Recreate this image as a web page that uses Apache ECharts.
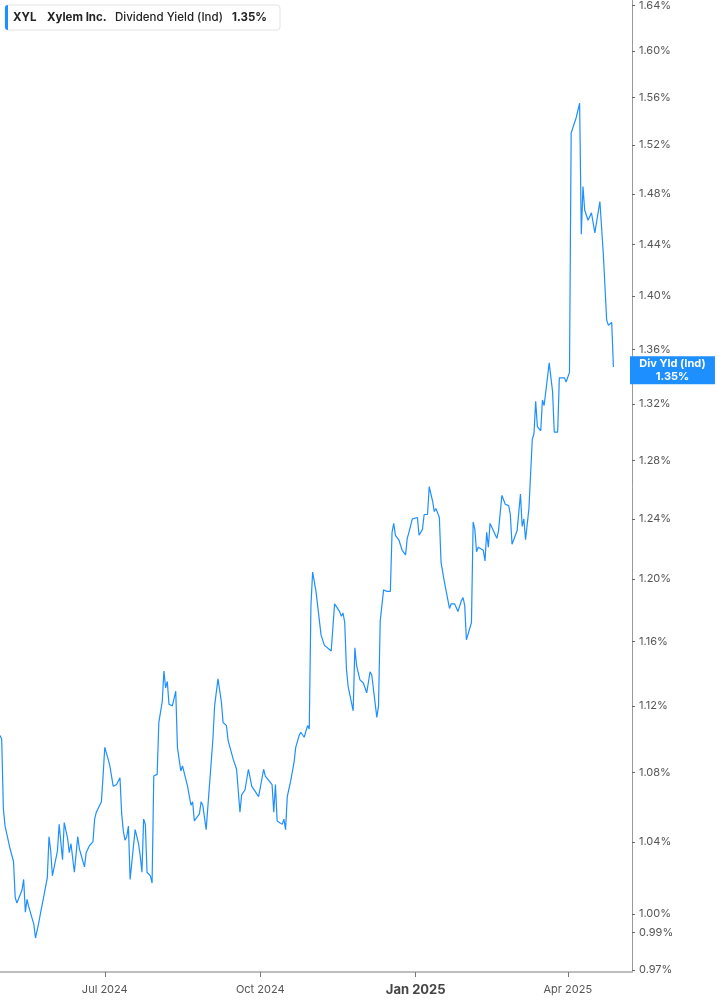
<!DOCTYPE html>
<html><head><meta charset="utf-8">
<script src="https://cdn.jsdelivr.net/npm/echarts@6/dist/echarts.min.js"></script>
<style>html,body{margin:0;padding:0;background:#fff}#c{width:717px;height:1005px}</style>
</head><body><div id="c"></div>
<script>
const dates = [
'2024-04-30','2024-05-01','2024-05-02','2024-05-03','2024-05-06','2024-05-08','2024-05-09','2024-05-10','2024-05-13','2024-05-14',
'2024-05-15','2024-05-16','2024-05-17','2024-05-20','2024-05-21','2024-05-22','2024-05-23','2024-05-24','2024-05-26','2024-05-28',
'2024-05-29','2024-05-30','2024-05-31','2024-06-03','2024-06-04','2024-06-06','2024-06-07','2024-06-09','2024-06-10','2024-06-11',
'2024-06-13','2024-06-14','2024-06-15','2024-06-16','2024-06-19','2024-06-20','2024-06-22','2024-06-24','2024-06-25','2024-06-26',
'2024-06-27','2024-06-29','2024-06-30','2024-07-01','2024-07-03','2024-07-04','2024-07-06','2024-07-08','2024-07-09','2024-07-10',
'2024-07-11','2024-07-12','2024-07-13','2024-07-14','2024-07-15','2024-07-16','2024-07-18','2024-07-19','2024-07-21','2024-07-22',
'2024-07-23','2024-07-24','2024-07-25','2024-07-26','2024-07-28','2024-07-29','2024-07-30','2024-08-01','2024-08-02','2024-08-04',
'2024-08-05','2024-08-06','2024-08-07','2024-08-08','2024-08-10','2024-08-12','2024-08-13','2024-08-14','2024-08-15','2024-08-16',
'2024-08-19','2024-08-20','2024-08-21','2024-08-22','2024-08-23','2024-08-26','2024-08-27','2024-08-28','2024-08-29','2024-08-30',
'2024-09-03','2024-09-04','2024-09-06','2024-09-08','2024-09-09','2024-09-11','2024-09-12','2024-09-13','2024-09-15','2024-09-17',
'2024-09-18','2024-09-19','2024-09-20','2024-09-22','2024-09-24','2024-09-26','2024-09-28','2024-09-30','2024-10-01','2024-10-02',
'2024-10-03','2024-10-04','2024-10-08','2024-10-09','2024-10-10','2024-10-11','2024-10-14','2024-10-15','2024-10-16','2024-10-17',
'2024-10-19','2024-10-21','2024-10-22','2024-10-23','2024-10-24','2024-10-25','2024-10-27','2024-10-29','2024-10-30','2024-10-31',
'2024-11-01','2024-11-03','2024-11-06','2024-11-07','2024-11-08','2024-11-12','2024-11-14','2024-11-17','2024-11-18','2024-11-19',
'2024-11-20','2024-11-21','2024-11-22','2024-11-25','2024-11-26','2024-11-27','2024-11-29','2024-12-01','2024-12-03','2024-12-04',
'2024-12-05','2024-12-06','2024-12-09','2024-12-10','2024-12-11','2024-12-13','2024-12-15','2024-12-17','2024-12-18','2024-12-19',
'2024-12-20','2024-12-22','2024-12-24','2024-12-26','2024-12-27','2024-12-28','2024-12-30','2024-12-31','2025-01-02','2025-01-03',
'2025-01-05','2025-01-06','2025-01-08','2025-01-09','2025-01-11','2025-01-12','2025-01-13','2025-01-15','2025-01-16','2025-01-18',
'2025-01-21','2025-01-22','2025-01-24','2025-01-26','2025-01-28','2025-01-29','2025-01-30','2025-01-31','2025-02-03','2025-02-04',
'2025-02-05','2025-02-06','2025-02-07','2025-02-10','2025-02-11','2025-02-12','2025-02-13','2025-02-14','2025-02-16','2025-02-18',
'2025-02-19','2025-02-21','2025-02-23','2025-02-24','2025-02-25','2025-02-26','2025-02-27','2025-03-02','2025-03-04','2025-03-05',
'2025-03-06','2025-03-07','2025-03-09','2025-03-11','2025-03-12','2025-03-13','2025-03-14','2025-03-16','2025-03-17','2025-03-18',
'2025-03-21','2025-03-23','2025-03-24','2025-03-26','2025-03-27','2025-03-30','2025-03-31','2025-04-02','2025-04-03','2025-04-06',
'2025-04-08','2025-04-09','2025-04-10','2025-04-11','2025-04-13','2025-04-15','2025-04-16','2025-04-17','2025-04-20','2025-04-22',
'2025-04-24','2025-04-25','2025-04-27','2025-04-28'
];
const divYield = [
1.102,1.100,1.059,1.049,1.036,1.029,1.009,1.006,1.013,1.019,
1.001,1.008,1.004,0.9945,0.987,0.988,0.9955,1.0006,1.010,1.020,
1.043,1.035,1.021,1.035,1.050,1.030,1.051,1.042,1.034,1.039,
1.023,1.023,1.043,1.036,1.026,1.034,1.038,1.040,1.053,1.057,
1.057,1.063,1.078,1.095,1.088,1.084,1.072,1.073,1.074,1.077,
1.056,1.046,1.041,1.043,1.049,1.019,1.038,1.047,1.039,1.032,
1.023,1.053,1.050,1.023,1.021,1.017,1.078,1.079,1.110,1.1225,
1.1415,1.131,1.135,1.121,1.120,1.129,1.095,1.095,1.081,1.084,
1.072,1.073,1.061,1.063,1.052,1.056,1.063,1.061,1.060,1.047,
1.100,1.120,1.1366,1.1225,1.110,1.108,1.099,1.100,1.088,1.082,
1.083,1.057,1.067,1.070,1.082,1.072,1.069,1.066,1.071,1.072,
1.082,1.078,1.073,1.057,1.073,1.052,1.050,1.053,1.047,1.066,
1.075,1.086,1.095,1.094,1.102,1.104,1.101,1.108,1.106,1.1826,
1.2047,1.192,1.164,1.163,1.1575,1.154,1.184,1.179,1.176,1.178,
1.172,1.143,1.132,1.117,1.156,1.145,1.136,1.134,1.128,1.128,
1.141,1.139,1.113,1.120,1.173,1.193,1.192,1.192,1.231,1.237,
1.229,1.226,1.219,1.216,1.227,1.231,1.240,1.241,1.241,1.229,
1.233,1.243,1.243,1.262,1.252,1.245,1.247,1.241,1.211,1.198,
1.181,1.184,1.184,1.179,1.186,1.188,1.183,1.161,1.172,1.238,
1.233,1.218,1.221,1.219,1.212,1.231,1.221,1.237,1.232,1.227,
1.232,1.256,1.250,1.249,1.249,1.243,1.223,1.232,1.257,1.235,
1.240,1.226,1.247,1.295,1.299,1.322,1.304,1.301,1.323,1.319,
1.350,1.329,1.300,1.300,1.339,1.339,1.336,1.343,1.530,1.543,
1.555,1.448,1.486,1.467,1.459,1.465,1.465,1.449,1.474,1.433,
1.382,1.378,1.380,1.347
];
const yTicks = [0.97,0.99,1.00,1.04,1.08,1.12,1.16,1.20,1.24,1.28,1.32,1.36,1.40,1.44,1.48,1.52,1.56,1.60,1.64];
const xTicks = ['2024-07-01','2024-10-01','2025-01-01','2025-04-01'];
const monthNames = ['Jan','Feb','Mar','Apr','May','Jun','Jul','Aug','Sep','Oct','Nov','Dec'];
const lastValue = 1.35;
const xStart = '2024-04-30';
const xEnd = '2025-05-09';

function ts(s) { return Date.parse(s + 'T00:00:00Z'); }

const FONT = 'Inter, Roboto, sans-serif';
const BLUE = '#1e8fff';
const chart = echarts.init(document.getElementById('c'), null, {renderer:'canvas'});
const option = {
  animation: false,
  backgroundColor: '#fff',
  textStyle: {fontFamily: FONT},
  grid: {left: 0, right: 85, top: 0, bottom: 33, containLabel: false},
  xAxis: {
    type: 'value',
    min: ts(xStart),
    max: ts(xEnd),
    axisLine: {show: true, lineStyle: {color: '#bdbdbd', width: 2}},
    axisTick: {show: true, customValues: xTicks.map(ts), length: 5, lineStyle: {color: '#777'}},
    axisLabel: {
      customValues: xTicks.map(ts),
      color: '#555', fontSize: 11, fontFamily: FONT, margin: 12,
      formatter: function (v) {
        const d = new Date(v);
        const s = monthNames[d.getUTCMonth()] + ' ' + d.getUTCFullYear();
        return d.getUTCMonth() === 0 ? '{b|' + s + '}' : s;
      },
      rich: {b: {fontWeight: 'bold', fontSize: 13, color: '#444', fontFamily: FONT}}
    },
    splitLine: {show: false}
  },
  yAxis: {
    type: 'log',
    position: 'right',
    min: 0.9689,
    max: 1.6445,
    axisLine: {show: true, lineStyle: {color: '#999', width: 1}},
    axisTick: {show: true, customValues: yTicks, length: 3, lineStyle: {color: '#666'}},
    axisLabel: {
      customValues: yTicks,
      color: '#555', fontSize: 11, fontFamily: FONT, margin: 7,
      formatter: function (v) { return Number(v).toFixed(2) + '%'; }
    },
    splitLine: {show: false},
    axisPointer: {
      show: true, type: 'line', value: lastValue, status: 'show', snap: false,
      lineStyle: {opacity: 0},
      label: {
        show: true, backgroundColor: BLUE, color: '#fff', fontWeight: 'bold', fontSize: 11,
        fontFamily: FONT, padding: [1, 0, 1, 0], margin: 0, borderRadius: 0,
        formatter: function () { return '{a|Div Yld (Ind)}\n{a|' + lastValue.toFixed(2) + '%}'; },
        rich: {a: {width: 85, align: 'center', color: '#fff', fontWeight: 'bold', fontSize: 11, fontFamily: FONT, lineHeight: 13}}
      },
      handle: {show: false}
    }
  },
  series: [{
    type: 'line',
    data: dates.map((d, i) => [ts(d), divYield[i]]),
    showSymbol: false,
    symbol: 'none',
    lineStyle: {color: BLUE, width: 1.2},
    silent: true
  }],
  graphic: [
    {type: 'rect', shape: {x: 5, y: 5, width: 275, height: 25, r: 3}, style: {fill: '#fff', stroke: '#e3e3e3', lineWidth: 1}, z: 10},
    {type: 'rect', shape: {x: 5, y: 5, width: 3, height: 25, r: [3, 0, 0, 3]}, style: {fill: BLUE}, z: 11},
    {type: 'text', x: 13, y: 17.5, style: {text: 'XYL', font: 'bold 11.5px ' + FONT, fill: '#222', verticalAlign: 'middle'}, z: 11},
    {type: 'text', x: 47, y: 17.5, style: {text: 'Xylem Inc.', font: 'bold 11.5px ' + FONT, fill: '#222', verticalAlign: 'middle'}, z: 11},
    {type: 'text', x: 115, y: 17.5, style: {text: 'Dividend Yield (Ind)', font: '500 11.5px ' + FONT, fill: '#222', verticalAlign: 'middle'}, z: 11},
    {type: 'text', x: 232, y: 17.5, style: {text: lastValue.toFixed(2) + '%', font: 'bold 11.5px ' + FONT, fill: '#222', verticalAlign: 'middle'}, z: 11}
  ]
};
chart.setOption(option);
</script>
</body></html>
